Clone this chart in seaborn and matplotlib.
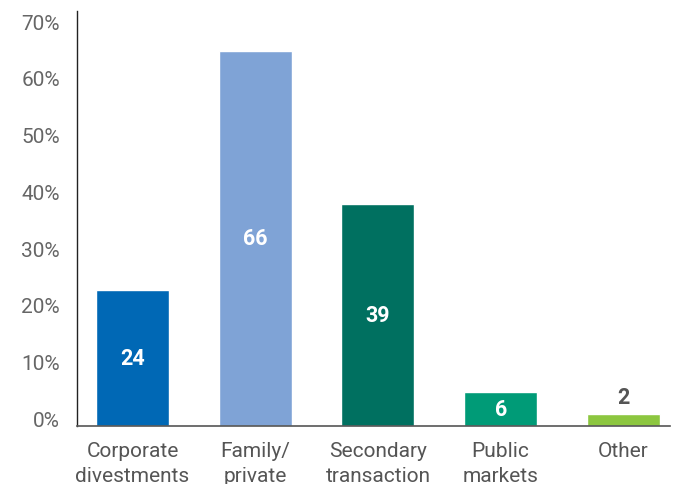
import matplotlib
matplotlib.use("Agg")
import matplotlib.pyplot as plt
import seaborn as sns
import pandas as pd
import numpy as np

categories = ["Corporate\ndivestments", "Family/\nprivate", "Secondary\ntransaction", "Public\nmarkets", "Other"]
values = [24, 66, 39, 6, 2]
colors = ["#0068b5", "#7fa3d6", "#007060", "#009b77", "#8cc63f"]
yticks = [0, 10, 20, 30, 40, 50, 60, 70]

sns.set_theme(style="white")
plt.rcParams['font.family'] = ['Roboto', 'DejaVu Sans']

df = pd.DataFrame({"category": categories, "value": values})

fig = plt.figure(figsize=(6.77, 4.85), dpi=100)
ax = fig.add_axes([76.5/677, 1-426.7/485, (670-76.5)/677, (426.7-12)/485])

sns.barplot(data=df, x="category", y="value", hue="category", palette=colors,
            order=categories, hue_order=categories, width=0.595, dodge=False,
            legend=False, saturation=1, ax=ax)

ax.set_xlim(-0.456, 4.38)
ax.set_ylim(0, 73.1)
ax.set_yticks(yticks)
ax.set_yticklabels([f"{t}%" for t in yticks])
for lbl in ax.get_yticklabels():
    lbl.set_va("baseline")
ax.tick_params(axis="y", length=0, pad=12, labelsize=15, labelcolor="#666666")
ax.tick_params(axis="x", length=0, pad=11, labelsize=15, labelcolor="#555555")
for lbl in ax.get_xticklabels():
    lbl.set_linespacing(1.4)
ax.set_xlabel("")
ax.set_ylabel("")

for s in ["top", "right"]:
    ax.spines[s].set_visible(False)
ax.spines["left"].set_color("#222222")
ax.spines["left"].set_linewidth(1.0)
ax.spines["bottom"].set_color("#555555")
ax.spines["bottom"].set_linewidth(1.2)

for i, v in enumerate(values):
    if v >= 5:
        ax.text(i, v / 2, str(v), ha="center", va="center", color="white",
                fontsize=15.5, fontweight="bold")
    else:
        ax.text(i, v + 1.2, str(v), ha="center", va="bottom", color="#555555",
                fontsize=15.5, fontweight="bold")

fig.savefig("out.png", dpi=100, facecolor="white")
